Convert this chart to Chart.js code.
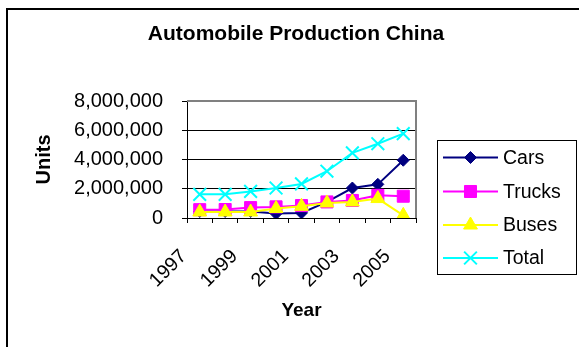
<!DOCTYPE html>
<html>
<head>
<meta charset="utf-8">
<script src="https://cdn.jsdelivr.net/npm/chart.js@4"></script>
<style>
  html, body { margin: 0; padding: 0; background: #fff; }
  #wrap { width: 579px; height: 347px; }
</style>
</head>
<body>
<div id="wrap"><canvas id="autoChart" width="579" height="347"></canvas></div>
<script>
const years = ["1997", "1998", "1999", "2000", "2001", "2002", "2003", "2004", "2005"];
const xTickLabels = ["1997", "", "1999", "", "2001", "", "2003", "", "2005"];
const cars = [450000, 450000, 450000, 300000, 350000, 1100000, 2050000, 2300000, 3950000];
const trucks = [570000, 580000, 710000, 760000, 850000, 1100000, 1200000, 1550000, 1490000];
const buses = [410000, 410000, 410000, 650000, 800000, 1030000, 1100000, 1330000, 180000];
const total = [1620000, 1620000, 1820000, 2050000, 2330000, 3200000, 4450000, 5080000, 5770000];
const yMin = 0, yMax = 8000000, yStep = 2000000;

const FONT = "Arial, 'Liberation Sans', sans-serif";

// series look (Excel default palette)
const series = [
    { label: "Cars", data: cars, color: "#000080", style: "rectRot", radius: 6, order: 4, pbw: 1 },
    { label: "Trucks", data: trucks, color: "#FF00FF", style: "rect", radius: 8.5, order: 3, pbw: 1 },
    { label: "Buses", data: buses, color: "#FFFF00", style: "triangle", radius: 8, order: 2, pbw: 1 },
    { label: "Total", data: total, color: "#00FFFF", style: "crossRot", radius: 9, order: 1, pbw: 2 }
];

function drawMarker(ctx, s, x, y) {
    ctx.save();
    ctx.fillStyle = s.color;
    ctx.strokeStyle = s.color;
    ctx.lineWidth = s.pbw;
    Chart.helpers.drawPoint(ctx, { pointStyle: s.style, radius: s.radius, rotation: 0, borderWidth: s.pbw }, x, y);
    ctx.restore();
}

const framePlugin = {
    id: "frame",
    beforeDraw(chart) {
        const ctx = chart.ctx;
        ctx.save();
        ctx.fillStyle = "#fff";
        ctx.fillRect(0, 0, chart.width, chart.height);
        ctx.strokeStyle = "#000";
        ctx.lineWidth = 2;
        ctx.strokeRect(7, 9, 700, 500);
        ctx.restore();
    },
    beforeDatasetsDraw(chart) {
        const ctx = chart.ctx, a = chart.chartArea;
        ctx.save();
        ctx.strokeStyle = "#808080";
        ctx.lineWidth = 2;
        ctx.beginPath();
        ctx.moveTo(a.left, a.top);
        ctx.lineTo(a.right, a.top);
        ctx.lineTo(a.right, a.bottom);
        ctx.stroke();
        ctx.restore();
    },
    afterDraw(chart) {
        const ctx = chart.ctx;
        ctx.save();
        // title
        ctx.fillStyle = "#000";
        ctx.font = "bold 21px " + FONT;
        ctx.textAlign = "center";
        ctx.textBaseline = "alphabetic";
        ctx.fillText("Automobile Production China", 296, 40);
        // legend
        ctx.strokeStyle = "#000";
        ctx.lineWidth = 1;
        ctx.strokeRect(437.5, 140.5, 139, 134);
        const rows = [157.5, 191.5, 225, 258];
        ctx.font = "19.5px " + FONT;
        ctx.textAlign = "left";
        ctx.textBaseline = "middle";
        series.forEach((s, i) => {
            const y = rows[i];
            ctx.strokeStyle = s.color;
            ctx.lineWidth = 2;
            ctx.beginPath();
            ctx.moveTo(443, y);
            ctx.lineTo(498, y);
            ctx.stroke();
            drawMarker(ctx, s, 470.5, y);
            ctx.fillStyle = "#000";
            ctx.fillText(s.label, 503, y + 1);
        });
        ctx.restore();
    }
};

new Chart(document.getElementById("autoChart"), {
    type: "line",
    data: {
        labels: years,
        datasets: series.map(s => ({
            label: s.label,
            data: s.data,
            borderColor: s.color,
            backgroundColor: s.color,
            borderWidth: 2,
            pointStyle: s.style,
            pointRadius: s.radius,
            pointBorderWidth: s.pbw,
            pointBackgroundColor: s.color,
            pointBorderColor: s.color,
            tension: 0,
            order: s.order
        }))
    },
    options: {
        responsive: false,
        animation: false,
        events: [],
        layout: { padding: { left: 20, right: 163, top: 101, bottom: 20 } },
        plugins: {
            legend: { display: false },
            title: { display: false },
            tooltip: { enabled: false }
        },
        scales: {
            x: {
                offset: true,
                grid: { offset: true, drawOnChartArea: false, color: "#000", tickLength: 5 },
                border: { color: "#000", width: 1 },
                ticks: {
                    autoSkip: false,
                    minRotation: 45,
                    maxRotation: 45,
                    padding: 22,
                    labelOffset: -16,
                    color: "#000",
                    font: { family: FONT, size: 19.5 },
                    callback: (v, i) => xTickLabels[i]
                },
                title: {
                    display: true,
                    text: "Year",
                    color: "#000",
                    font: { family: FONT, size: 19, weight: "bold" },
                    padding: { top: 0, bottom: 5 }
                },
                afterFit: scale => { scale.height = 109; }
            },
            y: {
                min: yMin,
                max: yMax,
                grid: {
                    color: c => (c.tick && c.tick.value === yMax ? "#808080" : "#000"),
                    tickColor: "#000",
                    tickLength: 5
                },
                border: { color: "#000", width: 1 },
                ticks: {
                    stepSize: yStep,
                    padding: 19,
                    color: "#000",
                    font: { family: FONT, size: 20 },
                    callback: v => v.toLocaleString("en-US")
                },
                title: {
                    display: true,
                    text: "Units",
                    color: "#000",
                    font: { family: FONT, size: 20, weight: "bold" },
                    padding: { top: 12, bottom: 0 }
                },
                afterFit: scale => { scale.width = 167; }
            }
        }
    },
    plugins: [framePlugin]
});
</script>
</body>
</html>
